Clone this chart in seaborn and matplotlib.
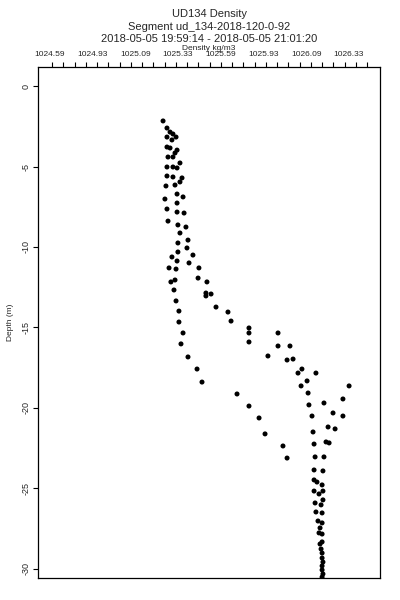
"""UD134 density profile, recreated with seaborn."""

import matplotlib

matplotlib.use("Agg")
import matplotlib.pyplot as plt
import numpy as np
import pandas as pd
import seaborn as sns

# values
density = [
    1025.247, 1025.270, 1025.288, 1025.305, 1025.323, 1025.270, 1025.299, 1025.270,
    1025.288, 1025.329, 1025.317, 1025.276, 1025.305, 1025.346, 1025.270, 1025.305,
    1025.329, 1025.270, 1025.305, 1025.358, 1025.264, 1025.317, 1025.346, 1025.258,
    1025.329, 1025.364, 1025.270, 1025.329, 1025.370, 1025.329, 1025.276, 1025.334,
    1025.381, 1025.346, 1025.393, 1025.334, 1025.387, 1025.334, 1025.422, 1025.299,
    1025.329, 1025.399, 1025.282, 1025.323, 1025.457, 1025.293, 1025.317, 1025.452,
    1025.504, 1025.311, 1025.498, 1025.528, 1025.498, 1025.323, 1025.557, 1025.340,
    1025.627, 1025.340, 1025.645, 1025.364, 1025.750, 1025.750, 1025.352, 1025.750,
    1025.393, 1025.861, 1025.920, 1025.920, 1025.990, 1025.446, 1025.973, 1026.008,
    1026.037, 1026.060, 1026.142, 1025.475, 1026.090, 1026.055, 1026.336, 1025.680,
    1026.096, 1026.300, 1025.750, 1026.101, 1026.189, 1026.242, 1026.300, 1025.809,
    1026.119, 1026.213, 1026.254, 1025.844, 1026.125, 1026.201, 1026.219, 1026.131,
    1025.949, 1025.973, 1026.137, 1026.189, 1026.131, 1026.183, 1026.131, 1026.148,
    1026.178, 1026.131, 1026.183, 1026.160, 1026.137, 1026.183, 1026.172, 1026.142,
    1026.178, 1026.154, 1026.178, 1026.166, 1026.160, 1026.178, 1026.178, 1026.166,
    1026.172, 1026.178, 1026.178, 1026.183, 1026.178, 1026.178, 1026.183, 1026.178,
]
depth = [
    -2.17, -2.61, -2.86, -2.98, -3.17, -3.17, -3.35, -3.79,
    -3.85, -3.98, -4.16, -4.41, -4.41, -4.78, -5.03, -5.03,
    -5.09, -5.59, -5.65, -5.71, -6.21, -6.15, -5.96, -7.02,
    -6.71, -6.89, -7.64, -7.27, -7.89, -7.83, -8.39, -8.63,
    -8.76, -9.13, -9.57, -9.75, -10.06, -10.31, -10.50, -10.62,
    -10.87, -10.99, -11.30, -11.37, -11.30, -12.17, -12.05, -11.93,
    -12.17, -12.67, -12.86, -12.92, -13.04, -13.35, -13.73, -13.98,
    -14.04, -14.66, -14.60, -15.34, -15.03, -15.34, -16.02, -15.90,
    -16.83, -16.77, -15.34, -16.15, -16.15, -17.58, -17.02, -16.96,
    -17.83, -17.58, -17.83, -18.39, -18.32, -18.63, -18.63, -19.13,
    -19.07, -19.44, -19.88, -19.81, -19.69, -20.31, -20.50, -20.62,
    -20.50, -21.18, -21.30, -21.61, -21.49, -22.11, -22.17, -22.24,
    -22.36, -23.11, -23.04, -23.04, -23.85, -23.91, -24.47, -24.60,
    -24.78, -25.16, -25.16, -25.34, -25.90, -25.71, -26.02, -26.46,
    -26.52, -27.02, -27.14, -27.45, -27.76, -27.83, -28.32, -28.45,
    -28.76, -29.01, -29.32, -29.57, -29.81, -30.06, -30.31, -30.50,
]

x_label_pos = [1024.585 + 0.25 * i for i in range(8)]
x_labels = ["1024.59", "1024.93", "1025.09", "1025.33",
            "1025.59", "1025.93", "1026.09", "1026.33"]
x_marks = [1024.597 + 0.0659 * i for i in range(29)]
y_ticks = [0, -5, -10, -15, -20, -25, -30]

title_lines = [
    "UD134 Density",
    "Segment ud_134-2018-120-0-92",
    "2018-05-05 19:59:14 - 2018-05-05 21:01:20",
]

sns.set_theme(style="white")
plt.rcParams["font.family"] = ["Liberation Sans", "DejaVu Sans"]

df = pd.DataFrame({"density": density, "depth": depth})

fig = plt.figure(figsize=(4, 6), dpi=100)
ax = fig.add_axes([0.095, 0.0367, 0.855, 0.8516])

sns.scatterplot(data=df, x="density", y="depth", ax=ax, color="black",
                s=13, edgecolor="none", linewidth=0, legend=False)

ax.set_xlim(1024.515, 1026.517)
ax.set_ylim(-30.56, 1.18)

for side in ax.spines.values():
    side.set_color("black")
    side.set_linewidth(0.9)

# top axis: labels without marks, marks on a separate (minor) set
ax.xaxis.tick_top()
ax.set_xticks(x_label_pos)
ax.set_xticklabels(x_labels)
ax.set_xticks(x_marks, minor=True)
ax.tick_params(axis="x", which="major", length=0, pad=6.5, labelsize=6)
ax.tick_params(axis="x", which="minor", top=True, bottom=False,
               length=3.6, width=0.8, color="black", direction="out")
ax.xaxis.set_label_position("top")
ax.set_xlabel("Density kg/m3", fontsize=6, labelpad=0.5)

ax.set_yticks(y_ticks)
ax.set_yticklabels([str(v) for v in y_ticks])
ax.tick_params(axis="y", left=True, length=3.6, width=0.8, color="black",
               direction="out", labelsize=6.5, pad=1.5)
plt.setp(ax.get_yticklabels(), rotation=90, va="center")
ax.set_ylabel("Depth (m)", fontsize=6, labelpad=6)

for i, line in enumerate(title_lines):
    fig.text(0.5225, 1 - (14 + 12.5 * i) / 600, line,
             ha="center", va="center", fontsize=8)

fig.savefig("out.png", dpi=100)
plt.close(fig)
